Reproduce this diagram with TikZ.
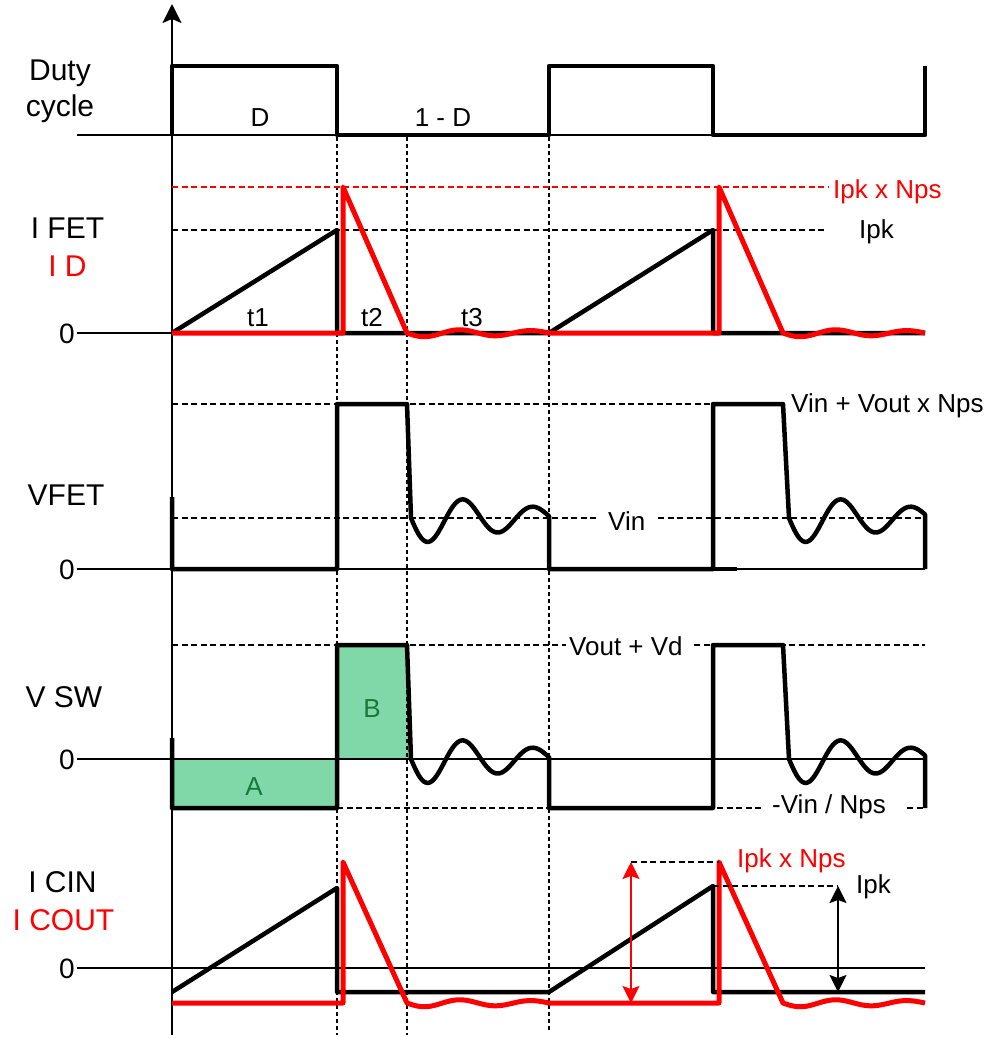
\documentclass[tikz,border=0pt]{standalone}
\usepackage{fontspec}
\setmainfont{Liberation Sans}
\usetikzlibrary{arrows.meta}
\definecolor{areafill}{RGB}{128,216,168}
\definecolor{areatext}{RGB}{24,120,60}
\definecolor{sigred}{RGB}{255,0,0}
\begin{document}
\begin{tikzpicture}[x=1pt,y=1pt,
  thinax/.style={line width=2.1pt},
  wave/.style={line width=4.5pt, line join=round},
  rwave/.style={line width=5pt, line join=round, draw=sigred},
  hdash/.style={line width=2.5pt, dash pattern=on 6pt off 3.5pt},
  vdot/.style={line width=2.5pt, dash pattern=on 4pt off 3pt},
  title/.style={font=\fontsize{30}{34}\selectfont, inner sep=0pt, anchor=base},
  lbl/.style={font=\fontsize{26}{30}\selectfont, inner sep=0pt},
  zero/.style={font=\fontsize{28}{32}\selectfont, inner sep=0pt, anchor=base east},
  dblarrow/.style={line width=2pt, {Stealth[length=17pt,width=17pt,inset=3pt]}-{Stealth[length=17pt,width=17pt,inset=3pt]}}
]
\useasboundingbox (0,0) rectangle (989,-1038);
\fill[white] (0,0) rectangle (989,-1038);

% green areas
\fill[areafill] (172,-759) rectangle (337,-808);
\fill[areafill] (337,-645) -- (407,-645) -- (411,-759) -- (337,-759) -- cycle;

% vertical dotted time markers
\draw[vdot] (337,-137) -- (337,-1035);
\draw[vdot] (407,-137) -- (407,-1035);
\draw[vdot] (549,-137) -- (549,-1032);

% zero / base axis lines
\draw[thinax] (77,-135) -- (925,-135);
\draw[thinax] (77,-333) -- (925,-333);
\draw[thinax] (77,-569) -- (925,-569);
\draw[thinax] (77,-759) -- (925,-759);
\draw[thinax] (77,-968) -- (925,-968);

% vertical axis with arrow
\coordinate (axbot) at (172,-1035);
\coordinate (axtop) at (172,-4);
\draw[thinax, -{Stealth[length=19pt,width=19pt,inset=4pt]}] (axbot) -- (axtop);

% horizontal dashed reference lines
\draw[hdash, draw=sigred] (172,-187) -- (828,-187);
\draw[hdash] (172,-230) -- (826,-230);
\draw[hdash] (172,-404) -- (713,-404);
\draw[hdash] (172,-518) -- (597,-518);
\draw[hdash] (658,-518) -- (925,-518);
\draw[hdash] (172,-645) -- (566,-645);
\draw[hdash] (694,-645) -- (925,-645);
\draw[hdash] (337,-808) -- (763,-808);
\draw[hdash] (907,-808) -- (925,-808);

% duty cycle
\draw[wave] (172,-135) -- (172,-66) -- (337,-66) -- (337,-135) -- (549,-135) -- (549,-66) -- (713,-66) -- (713,-135) -- (925,-135) -- (925,-66);

% I FET (black)
\draw[wave] (172,-333) -- (337,-230) -- (337,-333) -- (549,-333) -- (713,-230) -- (713,-333) -- (925,-333);
% I D (red)
\draw[rwave] (172,-333) -- (343,-333) -- (343,-187) -- (407,-333)
  -- plot[domain=407:549, samples=60, smooth] (\x, {-333 - 4*exp(-(\x-407)/250)*sin((\x-407)*5.0704)})
  -- (719,-333) -- (719,-187) -- (783,-333)
  -- plot[domain=783:925, samples=60, smooth] (\x, {-333 - 4*exp(-(\x-783)/250)*sin((\x-783)*5.0704)});

% VFET
\draw[wave] (172,-497) -- (172,-569) -- (337,-569) -- (337,-404) -- (407,-404) -- (411,-518)
  -- plot[domain=411:549, samples=80, smooth] (\x, {-518 - 27*exp(-(\x-411)/140)*sin((\x-411)*5.142857)})
  -- (549,-569) -- (713,-569) -- (713,-404) -- (783,-404) -- (789,-518)
  -- plot[domain=789:925, samples=80, smooth] (\x, {-518 - 27*exp(-(\x-789)/140)*sin((\x-789)*5.142857)})
  -- (925,-569);
\draw[wave] (713,-569) -- (737,-569);

% V SW
\draw[wave] (172,-738) -- (172,-808) -- (337,-808) -- (337,-645) -- (407,-645) -- (411,-759)
  -- plot[domain=411:549, samples=80, smooth] (\x, {-759 - 27*exp(-(\x-411)/140)*sin((\x-411)*5.142857)})
  -- (549,-808) -- (713,-808) -- (713,-645) -- (783,-645) -- (789,-759)
  -- plot[domain=789:925, samples=80, smooth] (\x, {-759 - 27*exp(-(\x-789)/140)*sin((\x-789)*5.142857)})
  -- (925,-808);

% I CIN (black)
\draw[wave] (172,-992) -- (337,-888) -- (337,-992) -- (549,-992) -- (713,-886) -- (713,-992) -- (925,-992);
% I COUT (red)
\draw[rwave] (172,-1003) -- (343,-1003) -- (343,-862) -- (407,-1003)
  -- plot[domain=407:549, samples=60, smooth] (\x, {-1003 - 4*exp(-(\x-407)/250)*sin((\x-407)*5.0704)})
  -- (719,-1003) -- (719,-862) -- (783,-1003)
  -- plot[domain=783:925, samples=60, smooth] (\x, {-1003 - 4*exp(-(\x-783)/250)*sin((\x-783)*5.0704)});

% I CIN dimension lines
\coordinate (rTop) at (631,-862);
\coordinate (rBot) at (631,-1003);
\coordinate (rPk) at (719,-862);
\coordinate (bTop) at (838,-886);
\coordinate (bBot) at (838,-992);
\coordinate (bPk) at (713,-886);
\draw[hdash] (rTop) -- (rPk);
\draw[hdash] (bPk) -- (bTop);
\draw[dblarrow, draw=sigred, fill=sigred] (rTop) -- (rBot);
\draw[dblarrow] (bTop) -- (bBot);

% labels
\node[title] (dutyA) at (60,-81) {Duty};
\node[title] (dutyB) at (60,-117) {cycle};
\node[lbl, anchor=base] (lD) at (260,-127) {D};
\node[lbl, anchor=base] (l1D) at (443,-127) {1 - D};

\node[title] (tIfet) at (67.5,-238) {I FET};
\node[title, text=sigred] (tId) at (67.5,-276) {I D};
\node[zero] (z1) at (75,-343) {0};
\node[lbl, anchor=base] (lt1) at (258,-326) {t1};
\node[lbl, anchor=base] (lt2) at (372,-326) {t2};
\node[lbl, anchor=base] (lt3) at (472,-326) {t3};
\node[lbl, anchor=base west, text=sigred] (lIpkN) at (833,-198) {Ipk x Nps};
\node[lbl, anchor=base west] (lIpk) at (859,-238) {Ipk};

\node[lbl, anchor=base west] (lVinVout) at (791,-412) {Vin + Vout x Nps};
\node[title] (tVfet) at (66,-505) {VFET};
\node[zero] (z2) at (75,-579) {0};
\node[lbl, anchor=base west] (lVin) at (608,-530) {Vin};

\node[lbl, anchor=base west] (lVoutVd) at (569,-655) {Vout + Vd};
\node[title] (tVsw) at (64,-707) {V SW};
\node[zero] (z3) at (75,-769) {0};
\node[lbl, anchor=base, text=areatext] (lA) at (254,-795) {A};
\node[lbl, anchor=base, text=areatext] (lB) at (372,-717) {B};
\node[lbl, anchor=base west] (lVinN) at (772,-813) {-Vin / Nps};

\node[title] (tIcin) at (62.5,-892) {I CIN};
\node[title, text=sigred] (tIcout) at (63.5,-930) {I COUT};
\node[zero] (z4) at (75,-978) {0};
\node[lbl, anchor=base west, text=sigred] (lIpkN2) at (737,-867) {Ipk x Nps};
\node[lbl, anchor=base west] (lIpk2) at (856,-893) {Ipk};
\end{tikzpicture}
\end{document}
